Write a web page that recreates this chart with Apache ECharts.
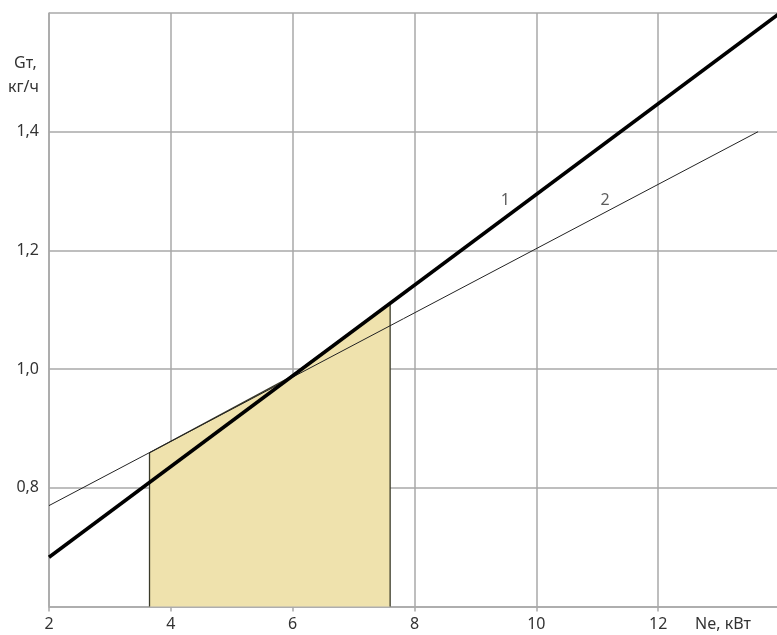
<!DOCTYPE html>
<html>
<head>
<meta charset="utf-8">
<script src="https://cdn.jsdelivr.net/npm/echarts@6/dist/echarts.min.js"></script>
<style>
  html, body { margin: 0; padding: 0; background: #fff; }
  #chartmain { width: 777px; height: 635px; }
</style>
</head>
<body>
<div id="chartmain"></div>
<script>
// line 1 (thick) and line 2 (thin): Gт vs Ne
var line1N = [2, 14];
var line1G = [0.683, 1.600];
var line2N = [2, 13.64];
var line2G = [0.770, 1.400];
// shaded zone between Ne = 3.65 and 7.6
var zoneN = [3.65, 3.65, 5.9, 7.6, 7.6];
var zoneG = [0.6, 0.859, 0.983, 1.111, 0.6];
// curve numbers
var tagText = ['1', '2'];
var tagN = [9.49, 11.13];
var tagG = [1.285, 1.285];

function pairs(xs, ys) {
    var out = [];
    for (var i = 0; i < xs.length; i++) {
        out.push([xs[i], ys[i]]);
    }
    return out;
}

var font = 'Noto Sans';
var gridColor = '#a9a9a9';
var textColor = '#333';

var chart = echarts.init(document.getElementById('chartmain'), null, { renderer: 'canvas' });
chart.setOption({
    animation: false,
    grid: { left: 49, top: 13, width: 731, height: 593.5, containLabel: false, outerBoundsMode: 'none' },
    xAxis: {
        type: 'value', min: 2, max: 14, interval: 2,
        axisLine: { show: true, lineStyle: { color: gridColor, width: 1.5 } },
        axisTick: { show: true, length: 5, lineStyle: { color: gridColor, width: 1.5 } },
        splitLine: { show: true, lineStyle: { color: gridColor, width: 1.5 } },
        axisLabel: {
            color: textColor, fontFamily: font, fontSize: 16, margin: 10,
            formatter: function (v) { return v >= 14 ? '' : String(v); }
        }
    },
    yAxis: {
        type: 'value', min: 0.6, max: 1.6, interval: 0.2,
        axisLine: { show: true, lineStyle: { color: gridColor, width: 1.5 } },
        axisTick: { show: false },
        splitLine: { show: true, lineStyle: { color: gridColor, width: 1.5 } },
        axisLabel: {
            color: textColor, fontFamily: font, fontSize: 16, margin: 10,
            formatter: function (v) {
                if (v < 0.7 || v > 1.5) return '';
                return v.toFixed(1).replace('.', ',');
            }
        }
    },
    graphic: [
        { type: 'text', left: 14, top: 55, style: { text: 'Gт,', fill: textColor, font: '16px "Noto Sans"' } },
        { type: 'text', left: 8, top: 79, style: { text: 'кг/ч', fill: textColor, font: '16px "Noto Sans"' } },
        { type: 'text', left: 695, top: 616, style: { text: 'Ne, кВт', fill: textColor, font: '16px "Noto Sans"' } }
    ],
    series: [
        {
            type: 'line', data: pairs(zoneN, zoneG), symbol: 'none',
            lineStyle: { color: '#3a3a2a', width: 1.3 },
            areaStyle: { color: '#efe2ad', opacity: 1, origin: 'start' },
            z: 1
        },
        {
            type: 'line', data: pairs(line2N, line2G), symbol: 'none',
            lineStyle: { color: '#222', width: 1 }, z: 3
        },
        {
            type: 'line', data: pairs(line1N, line1G), symbol: 'none',
            lineStyle: { color: '#000', width: 3.5 }, z: 4
        },
        {
            type: 'scatter', symbolSize: 0, z: 5,
            data: tagText.map(function (t, i) { return { name: t, value: [tagN[i], tagG[i]] }; }),
            label: {
                show: true, position: 'inside', formatter: '{b}',
                color: textColor, fontFamily: font, fontSize: 16
            }
        }
    ]
});
</script>
</body>
</html>
